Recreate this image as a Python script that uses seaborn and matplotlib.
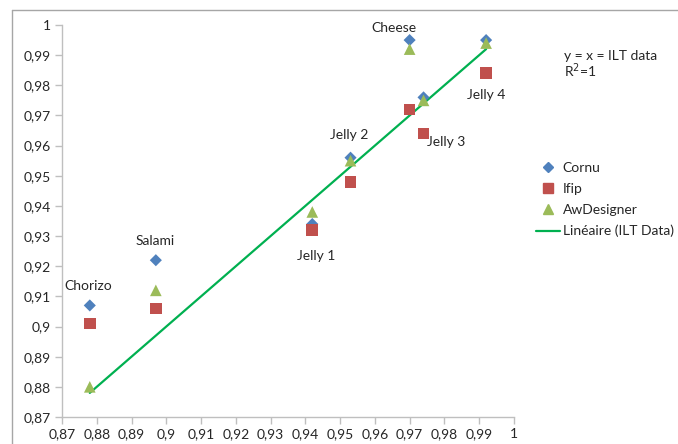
import matplotlib
matplotlib.use("Agg")
import matplotlib.pyplot as plt
import seaborn as sns
import pandas as pd
from matplotlib.lines import Line2D
from matplotlib.ticker import FuncFormatter, MultipleLocator

# Data
products = ["Chorizo", "Salami", "Jelly 1", "Jelly 2", "Cheese", "Jelly 3", "Jelly 4"]
ilt = [0.878, 0.897, 0.942, 0.953, 0.970, 0.974, 0.992]
cornu = [0.907, 0.922, 0.934, 0.956, 0.995, 0.976, 0.995]
ifip = [0.901, 0.906, 0.932, 0.948, 0.972, 0.964, 0.984]
awdesigner = [0.880, 0.912, 0.938, 0.955, 0.992, 0.975, 0.994]

sns.set_theme(style="white")
plt.rcParams['font.family'] = ['Lato', 'DejaVu Sans']

rows = []
for name, vals in [("Cornu", cornu), ("Ifip", ifip), ("AwDesigner", awdesigner)]:
    for p, x, y in zip(products, ilt, vals):
        rows.append({"product": p, "ILT": x, "value": y, "series": name})
df = pd.DataFrame(rows)
line_df = pd.DataFrame({"ILT": ilt, "fit": ilt})

colors = {"Cornu": "#4F81BD", "Ifip": "#C0504D", "AwDesigner": "#9BBB59"}
markers = {"Cornu": "D", "Ifip": "s", "AwDesigner": "^"}
sizes = {"Cornu": 38, "Ifip": 70, "AwDesigner": 70}

fig = plt.figure(figsize=(6.78, 4.44), dpi=100)
ax = fig.add_axes([0.0914, 0.0608, 0.6666, 0.8829])

sns.lineplot(data=line_df, x="ILT", y="fit", ax=ax, color="#00B050", lw=1.6, zorder=2)
for name in ["Cornu", "Ifip", "AwDesigner"]:
    sub = df[df.series == name]
    sns.scatterplot(data=sub, x="ILT", y="value", ax=ax, color=colors[name],
                    marker=markers[name], s=sizes[name], edgecolor="none",
                    zorder=3, legend=False)

ax.set_xlim(0.87, 1.0)
ax.set_ylim(0.87, 1.0)
ax.xaxis.set_major_locator(MultipleLocator(0.01))
ax.yaxis.set_major_locator(MultipleLocator(0.01))
fmt = FuncFormatter(lambda v, p: f"{round(v, 2):g}".replace(".", ","))
ax.xaxis.set_major_formatter(fmt)
ax.yaxis.set_major_formatter(fmt)
ax.set_xlabel("")
ax.set_ylabel("")
for s in ["top", "right"]:
    ax.spines[s].set_visible(False)
for s in ["left", "bottom"]:
    ax.spines[s].set_color("#BFBFBF")
    ax.spines[s].set_linewidth(1.0)
ax.tick_params(axis="both", which="major", direction="out", length=5, width=1,
               color="#BFBFBF", labelsize=10, labelcolor="#262626", pad=3,
               left=True, bottom=True)

# point labels
label_pos = {
    "Chorizo": (0.8775, 0.9133),
    "Salami": (0.8968, 0.9285),
    "Jelly 1": (0.9430, 0.9235),
    "Jelly 2": (0.9527, 0.9635),
    "Cheese": (0.9656, 0.9990),
    "Jelly 3": (0.9804, 0.9612),
    "Jelly 4": (0.9919, 0.9768),
}
for p in products:
    x, y = label_pos[p]
    ax.text(x, y, p, ha="center", va="center", fontsize=10, color="#262626")

ax.text(1.0145, 0.9868, "y = x = ILT data\nR$^2$=1", ha="left", va="center",
        fontsize=10, color="#262626", linespacing=1.0, clip_on=False)

handles = [
    Line2D([], [], marker="D", color=colors["Cornu"], linestyle="none", markersize=5),
    Line2D([], [], marker="s", color=colors["Ifip"], linestyle="none", markersize=7),
    Line2D([], [], marker="^", color=colors["AwDesigner"], linestyle="none", markersize=7),
    Line2D([], [], color="#00B050", lw=1.6),
]
labels = ["Cornu", "Ifip", "AwDesigner", "Linéaire (ILT Data)"]
leg = fig.legend(handles, labels, loc="upper left", bbox_to_anchor=(0.783, 0.648),
                 frameon=False, fontsize=10, handlelength=1.7, handletextpad=0.2,
                 labelspacing=0.65, borderaxespad=0)
for t in leg.get_texts():
    t.set_color("#262626")

# outer chart-area frame (left and top edges visible)
fig.add_artist(Line2D([0.0177, 0.0177], [0.0, 0.9775], transform=fig.transFigure,
                      color="#A6A6A6", lw=1.0))
fig.add_artist(Line2D([0.0177, 1.0], [0.9775, 0.9775], transform=fig.transFigure,
                      color="#A6A6A6", lw=1.0))

fig.savefig("out.png", dpi=100)
